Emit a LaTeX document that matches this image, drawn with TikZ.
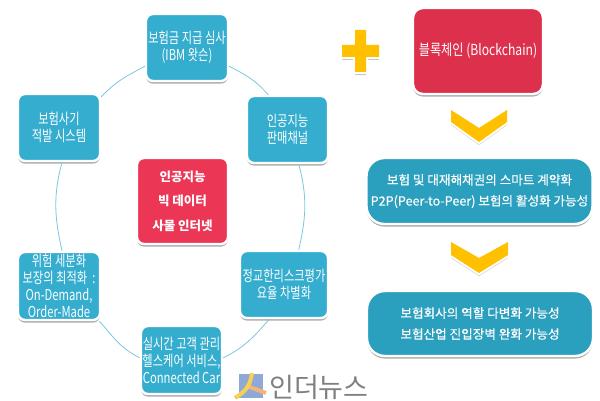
\documentclass[tikz,border=0pt]{standalone}
\usepackage{fontspec}
\setmainfont{Noto Sans CJK KR}
\newfontfamily\narrowkr[FakeStretch=0.75]{Noto Sans CJK KR}
\newfontfamily\chainkr[FakeStretch=0.8]{Noto Sans CJK KR}
\newfontfamily\widekr[FakeBold=0.3]{Noto Sans CJK KR}
\usetikzlibrary{shadows}
\definecolor{boxblue}{HTML}{34ADCF}
\definecolor{midblue}{HTML}{2A9FBE}
\definecolor{redA}{HTML}{EC3655}
\definecolor{redB}{HTML}{DC304C}
\definecolor{gold}{HTML}{FFC000}
\definecolor{ringc}{HTML}{7CC8DE}
\definecolor{logoblue}{HTML}{8FA9D6}
\definecolor{logopeach}{HTML}{F3B37A}
\definecolor{logoyellow}{HTML}{F7D154}
\definecolor{logogray}{HTML}{808080}
\tikzset{
  card/.style={rectangle,rounded corners=7pt,draw=white,line width=2.4pt,text=white,align=center,inner sep=0pt,
    drop shadow={shadow xshift=0pt,shadow yshift=-2.6pt,fill=black!40,opacity=.8}},
  small/.style={card,fill=boxblue,font=\narrowkr\fontsize{15}{17}\selectfont},
  core/.style={card,fill=redA,font=\bfseries\fontsize{12.5}{24.5}\selectfont},
  chain/.style={card,fill=redB,rounded corners=10pt,font=\chainkr\fontsize{15.2}{17}\selectfont},
  wide/.style={card,fill=midblue,rounded corners=18pt,font=\widekr\fontsize{12.6}{21}\selectfont},
  ring/.style={draw=ringc,line width=0.8pt},
  goldmark/.style={line join=miter,
    drop shadow={shadow xshift=0pt,shadow yshift=-3pt,fill=black!30,opacity=.7},
    preaction={draw=white,line width=4pt},fill=gold}
}
\begin{document}
\begin{tikzpicture}[x=1pt,y=1pt]
\useasboundingbox (0,0) rectangle (600,400);
\fill[white] (0,0) rectangle (600,400);
% ring boxes
\node[small,minimum width=82pt,minimum height=67pt] (top) at (187,352.5) {보험금 지급 심사\\(IBM 왓슨)};
\node[small,minimum width=82pt,minimum height=67pt] (fraud) at (59,272.5) {보험사기\\적발 시스템};
\node[small,minimum width=81pt,minimum height=67pt] (sales) at (287.5,270.5) {인공지능\\판매채널};
\node[small,minimum width=88pt,minimum height=67pt] (risk) at (284,115.5) {정교한리스크평가\\요율 차별화};
\node[small,minimum width=82pt,minimum height=68pt] (opt) at (59,114) {위험 세분화\\보장의 최적화 \ :\\On-Demand,\\Order-Made};
\node[small,minimum width=81pt,minimum height=68pt] (care) at (181.5,40) {실시간 고객 관리\\헬스케어 서비스,\\Connected Car};
\node[core,minimum width=91pt,minimum height=86pt] (core) at (182.5,199) {인공지능\\빅 데이터\\사물 인터넷};
% ring arcs
\draw[ring] (top.336) to[out=-27,in=131] (sales.119);
\draw[ring] (sales.288) to[out=-75,in=77] (risk.67);
\draw[ring] (risk.247) to[out=-131,in=26] (care.3);
\draw[ring] (care.177) to[out=154,in=-49] (opt.319);
\draw[ring] (opt.85) to[out=103,in=-105] (fraud.275);
\draw[ring] (fraud.36) to[out=47,in=-152] (top.204);
% right column
\node[chain,minimum width=130pt,minimum height=86pt] (chain) at (478,349) {블록체인 (Blockchain)};
\node[wide,minimum width=226pt,minimum height=66pt] (smart) at (479.5,209) {보험 및 대재해채권의 스마트 계약화\\P2P(Peer-to-Peer) 보험의 활성화 가능성};
\node[wide,minimum width=226pt,minimum height=65pt] (role) at (480,76.5) {보험회사의 역할 다변화 가능성\\보험산업 진입장벽 완화 가능성};
% plus
\path[goldmark] (355,370) -- (366,370) -- (366,355) -- (379,355) -- (379,343) -- (366,343) -- (366,328) -- (355,328) -- (355,343) -- (342,343) -- (342,355) -- (355,355) -- cycle;
% chevrons
\path[goldmark] (451,290) -- (479,272) -- (507,290) -- (507,278) -- (479,258) -- (451,278) -- cycle;
\path[goldmark] (451,158) -- (479,142) -- (508,158) -- (508,145) -- (479,127) -- (451,145) -- cycle;
% logo
\fill[logoblue] (239,2) rectangle (263,26);
\draw[logopeach,line width=4pt] (247,14) -- (266,7);
\draw[logoyellow,line width=4pt] (252,27) .. controls (250,14) and (246,9) .. (235,2);
\node[text=logogray,font=\fontsize{27}{27}\selectfont,inner sep=0pt,anchor=west] (logo) at (269,13) {인더뉴스};
\end{tikzpicture}
\end{document}
